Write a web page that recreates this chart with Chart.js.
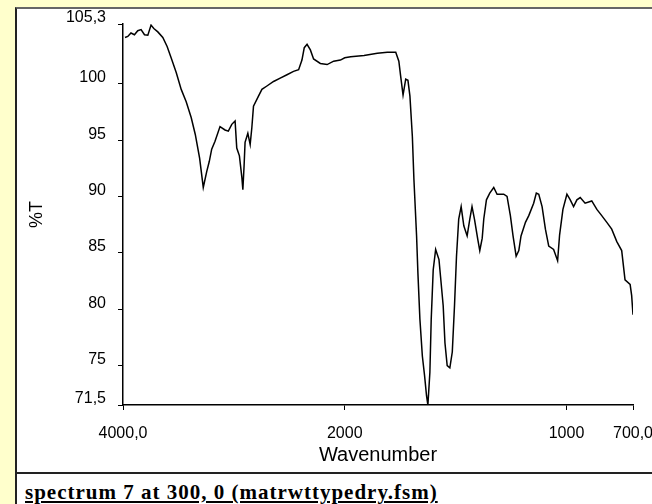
<!DOCTYPE html>
<html>
<head>
<meta charset="utf-8">
<script src="https://cdn.jsdelivr.net/npm/chart.js@4"></script>
<style>
    html, body { margin: 0; padding: 0; }
    body { width: 652px; height: 504px; background: #ffffcc; position: relative; overflow: hidden; }
    #panel { position: absolute; left: 15px; top: 7px; width: 637px; height: 497px; background: #fff;
             border-left: 2px solid #222; border-top: 2px solid #666; box-sizing: border-box; }
    #sep { position: absolute; left: 16px; top: 472px; width: 636px; height: 2px; background: #222; }
    #caption { position: absolute; left: 25px; top: 480px; font: bold 21px "Liberation Serif", serif;
               letter-spacing: 1px; text-decoration: underline; color: #000; white-space: nowrap; }
    #wrap { position: absolute; left: 0; top: 0; width: 652px; height: 504px; }
</style>
</head>
<body>
<div id="panel"></div>
<div id="sep"></div>
<div id="caption">spectrum 7 at 300, 0 (matrwttypedry.fsm)</div>
<div id="wrap"><canvas id="spectrumChart"></canvas></div>
<script>
// wavenumbers (cm-1) and %T
const wavenumbers = [
    3982, 3957, 3928, 3897, 3867, 3837, 3806, 3776, 3747, 3722, 3686, 3641, 3602, 3566, 3520,
    3475, 3430, 3385, 3348, 3309, 3276, 3245, 3222, 3200, 3170, 3125, 3080, 3050, 3019, 2989,
    2974, 2950, 2928, 2919, 2908, 2899, 2874, 2853, 2838, 2823, 2778, 2747, 2702, 2642, 2582,
    2521, 2462, 2416, 2386, 2365, 2340, 2310, 2281, 2220, 2159, 2100, 2039, 2000, 1973, 1913,
    1853, 1808, 1770, 1756, 1748, 1737, 1725, 1715, 1706, 1695, 1688, 1676, 1670, 1661, 1650,
    1640, 1631, 1625, 1616, 1610, 1601, 1590, 1575, 1568, 1556, 1548, 1538, 1526, 1515, 1505,
    1496, 1486, 1475, 1463, 1448, 1436, 1426, 1415, 1400, 1391, 1380, 1373, 1361, 1346, 1328,
    1313, 1283, 1268, 1253, 1241, 1227, 1215, 1205, 1185, 1170, 1148, 1136, 1125, 1110, 1095,
    1080, 1058, 1040, 1031, 1016, 998, 983, 968, 953, 938, 916, 886, 863, 841, 818,
    796, 773, 751, 736, 713, 706, 700
];
const transmittance = [
    104.1, 104.2, 104.5, 104.35, 104.7, 104.8, 104.35, 104.3, 105.2, 104.9, 104.6, 104.1, 103.3, 102.3, 101.0,
    99.5, 98.4, 97.0, 95.5, 93.4, 90.8, 92.2, 93.1, 94.2, 94.9, 96.2, 95.9, 95.8, 96.4, 96.7,
    94.3, 93.6, 91.7, 90.6, 92.7, 94.8, 95.6, 94.6, 96.1, 98.0, 98.9, 99.5, 99.8, 100.2, 100.5,
    100.8, 101.1, 101.25, 102.1, 103.2, 103.5, 103.0, 102.2, 101.8, 101.7, 102.0, 102.1, 102.3, 102.4, 102.5,
    102.7, 102.8, 102.8, 102.0, 100.7, 99.0, 100.4, 100.3, 98.9, 95.3, 91.5, 86.5, 83.2, 79.1, 75.85,
    74.1, 72.3, 71.5, 74.4, 79.1, 83.5, 85.3, 84.4, 82.9, 80.3, 77.0, 75.0, 74.8, 76.2, 80.3,
    84.7, 88.0, 89.1, 87.4, 86.5, 88.0, 89.1, 88.0, 86.2, 85.2, 86.3, 88.0, 89.7, 90.3, 90.8,
    90.2, 90.2, 90.0, 88.3, 86.5, 84.7, 85.2, 86.5, 87.7, 88.3, 89.4, 90.3, 90.2, 89.1, 87.1,
    85.6, 85.3, 84.3, 86.6, 88.85, 90.2, 89.7, 89.1, 89.7, 89.9, 89.4, 89.6, 88.85, 88.3, 87.7,
    87.1, 86.0, 85.2, 82.6, 82.2, 81.2, 79.5
];

const xTickValues = [4000, 2000, 1000, 700];
const xTickLabels = ['4000,0', '2000', '1000', '700,0'];
const yTickValues = [105.3, 100, 95, 90, 85, 80, 75, 71.5];
const yTickLabels = ['105,3', '100', '95', '90', '85', '80', '75', '71,5'];

// the x axis changes scale at 2000: above it 1 px stands for twice as many cm-1
function axisPos(wn) {
    return wn <= 2000 ? wn : 2000 + (wn - 2000) / 2;
}

const points = wavenumbers.map((wn, i) => ({ x: axisPos(wn), y: transmittance[i] }));

const tickFont = { family: 'Liberation Sans', size: 16 };

new Chart(document.getElementById('spectrumChart'), {
    type: 'line',
    data: {
        datasets: [{
            data: points,
            borderColor: '#000',
            borderWidth: 1.5,
            pointRadius: 0,
            tension: 0,
            fill: false
        }]
    },
    options: {
        responsive: true,
        maintainAspectRatio: false,
        animation: false,
        layout: { padding: { left: 22, top: 24, right: 19, bottom: 37 } },
        plugins: { legend: { display: false }, tooltip: { enabled: false } },
        scales: {
            x: {
                type: 'linear',
                reverse: true,
                min: axisPos(700),
                max: axisPos(4000),
                afterBuildTicks: scale => {
                    scale.ticks = xTickValues.map(v => ({ value: axisPos(v) }));
                },
                afterFit: scale => {
                    scale.height = 62;
                    scale.paddingLeft = 0;
                    scale.paddingRight = 0;
                },
                ticks: {
                    autoSkip: false,
                    maxRotation: 0,
                    padding: 14,
                    color: '#000',
                    font: tickFont,
                    callback: function (value) {
                        const idx = xTickValues.findIndex(v => axisPos(v) === value);
                        return idx >= 0 ? xTickLabels[idx] : '';
                    }
                },
                grid: { drawOnChartArea: false, drawTicks: true, tickLength: 5, color: '#000' },
                border: { display: true, color: '#000', width: 1.5 },
                title: {
                    display: true,
                    text: 'Wavenumber',
                    color: '#000',
                    font: { family: 'Liberation Sans', size: 20 },
                    padding: { top: 0, bottom: 0 }
                }
            },
            y: {
                min: 71.5,
                max: 105.3,
                afterBuildTicks: scale => {
                    scale.ticks = yTickValues.map(v => ({ value: v }));
                },
                afterFit: scale => {
                    scale.width = 101;
                    scale.paddingTop = 0;
                    scale.paddingBottom = 0;
                },
                ticks: {
                    autoSkip: false,
                    padding: 12,
                    labelOffset: -6,
                    color: '#000',
                    font: tickFont,
                    callback: function (value) {
                        const idx = yTickValues.indexOf(value);
                        return idx >= 0 ? yTickLabels[idx] : '';
                    }
                },
                grid: { drawOnChartArea: false, drawTicks: true, tickLength: 5, color: '#000' },
                border: { display: true, color: '#000', width: 1.5 },
                title: {
                    display: true,
                    text: '%T',
                    color: '#000',
                    font: { family: 'Liberation Sans', size: 18 },
                    padding: { top: 4, bottom: 4 }
                }
            }
        }
    }
});
</script>
</body>
</html>
